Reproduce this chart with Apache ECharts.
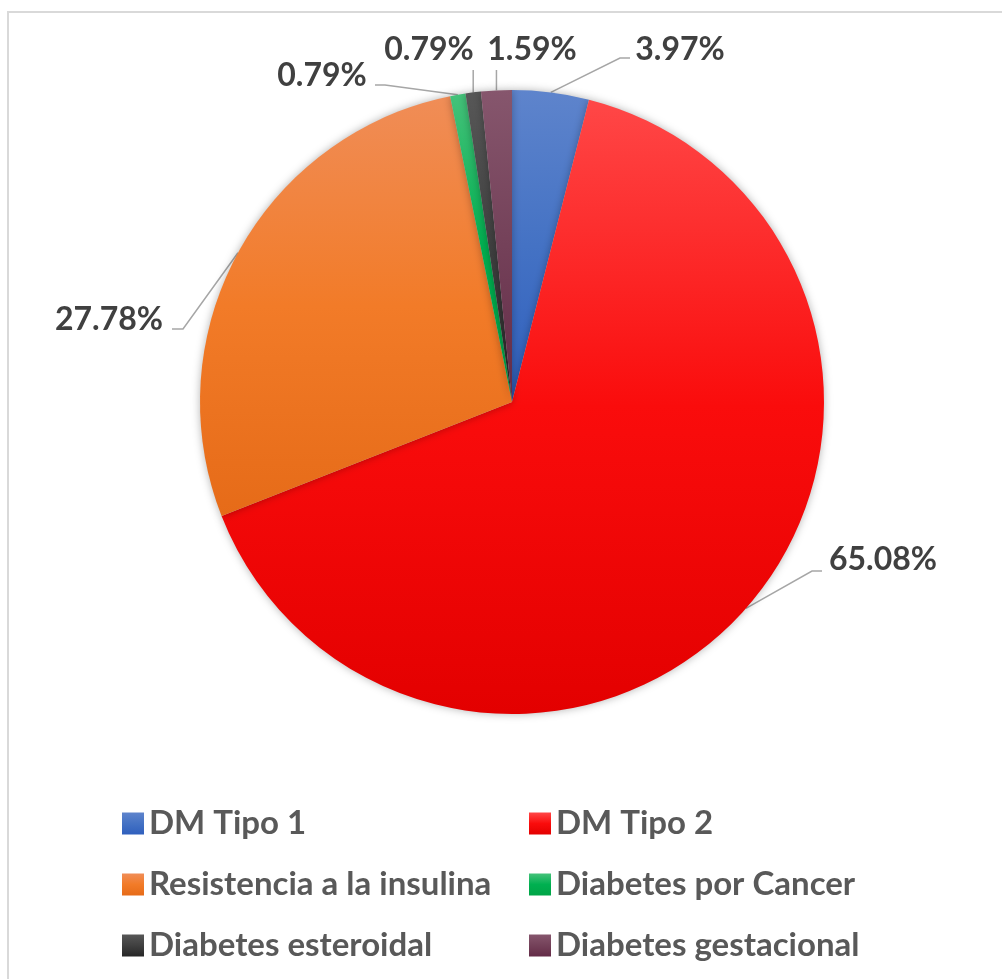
<!DOCTYPE html>
<html>
<head>
<meta charset="utf-8">
<script src="https://cdn.jsdelivr.net/npm/echarts@6/dist/echarts.min.js"></script>
<style>
  html, body { margin: 0; padding: 0; background: #fff; }
  #chart { width: 1002px; height: 979px; }
</style>
</head>
<body>
<div id="chart"></div>
<script>
// datos
const names = ['DM Tipo 1', 'DM Tipo 2', 'Resistencia a la insulina', 'Diabetes por Cancer', 'Diabetes esteroidal', 'Diabetes gestacional']
const counts = [5, 82, 35, 1, 1, 2]

// colores (arriba claro -> base -> abajo oscuro)
const topColors = ['#5e84cc', '#ff4747', '#f08d57', '#45c27a', '#575757', '#86566d']
const midColors = ['#4472c4', '#fa0c0c', '#f27b28', '#00b050', '#404040', '#744159']
const bottomColors = ['#2f5fbd', '#e30000', '#e66b18', '#00a447', '#262626', '#632b47']

// posicion de etiquetas y lineas guia
const labelPos = [
  { x: 680, y: 50, line: [[620, 58], [630, 58]] },
  { x: 883, y: 560, line: [[812, 571], [822, 571]] },
  { x: 109, y: 320, line: [[183, 329], [172, 329]] },
  { x: 322, y: 76, line: [[385, 85], [375, 85]] },
  { x: 429, y: 50, line: [[null, 70]] },
  { x: 532, y: 50, line: [[null, 70]] },
]

const grad = (i) => new echarts.graphic.LinearGradient(0, 0, 0, 1, [
  { offset: 0, color: topColors[i] },
  { offset: 0.5, color: midColors[i] },
  { offset: 1, color: bottomColors[i] },
])

const chart = echarts.init(document.getElementById('chart'))

const legendText = {
  fontFamily: 'Lato',
  fontWeight: 'bold',
  fontSize: 33,
  color: '#595959',
  padding: [0, 0, 0, 0],
}

const legendBase = {
  orient: 'vertical',
  top: 802,
  height: 170,
  icon: 'rect',
  itemWidth: 22,
  itemHeight: 22,
  itemGap: 28,
  textStyle: legendText,
}

const option = {
  animation: false,
  graphic: [
    {
      type: 'rect',
      shape: { x: 8, y: 12, width: 1010, height: 990 },
      style: { fill: 'none', stroke: '#d9d9d9', lineWidth: 2 },
      silent: true,
    },
  ],
  legend: [
    Object.assign({ data: [names[0], names[2], names[4]], left: 117 }, legendBase),
    Object.assign({ data: [names[1], names[3], names[5]], left: 524 }, legendBase),
  ],
  series: [
    {
      type: 'pie',
      center: [512, 402],
      radius: 312,
      startAngle: 90,
      clockwise: true,
      avoidLabelOverlap: false,
      data: names.map((n, i) => ({
        name: n,
        value: counts[i],
        itemStyle: { color: grad(i) },
      })),
      itemStyle: {
        shadowBlur: 8,
        shadowColor: 'rgba(0,0,0,0.3)',
      },
      label: {
        show: true,
        position: 'outside',
        formatter: (p) => p.percent.toFixed(2) + '%',
        fontFamily: 'Lato',
        fontWeight: 'bold',
        fontSize: 32,
        color: '#404040',
      },
      labelLine: {
        show: true,
        lineStyle: { color: '#a6a6a6', width: 1.5 },
      },
      labelLayout: (p) => {
        const L = labelPos[p.dataIndex]
        const s = p.labelLinePoints ? p.labelLinePoints[0] : [0, 0]
        const pts = [[s[0], s[1]]].concat(L.line.map((q) => [q[0] == null ? s[0] : q[0], q[1]]))
        return {
          x: L.x,
          y: L.y,
          align: 'center',
          verticalAlign: 'middle',
          labelLinePoints: pts,
        }
      },
      emphasis: { disabled: true },
    },
  ],
}

chart.setOption(option)
</script>
</body>
</html>
